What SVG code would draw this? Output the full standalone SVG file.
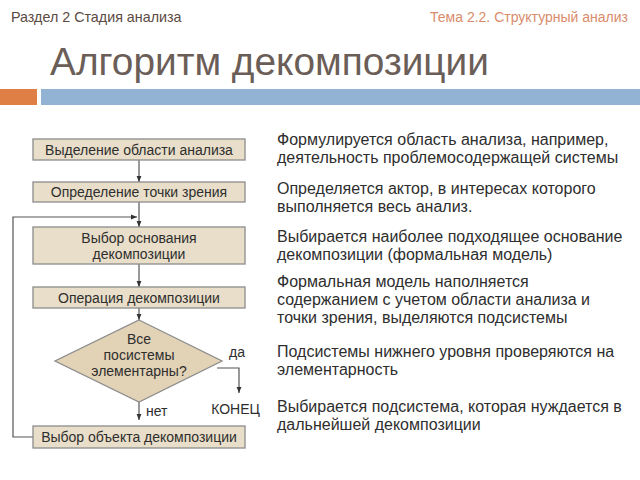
<svg xmlns="http://www.w3.org/2000/svg" width="640" height="480" viewBox="0 0 640 480">
<defs>
<style>
.box{fill:#e9dec9;stroke:#8c8c8c;stroke-width:1.3}
.dia{fill:#e2d2b6;stroke:#8c8c8c;stroke-width:1.3}
.bt{font-family:"Liberation Sans",Arial,sans-serif;font-size:14px;fill:#2e2e2e;text-anchor:middle}
.rt{font-family:"Liberation Sans",Arial,sans-serif;font-size:16px;fill:#2e2e2e}
.ln{fill:none;stroke:#555;stroke-width:1.2}
</style>
<marker id="ah" viewBox="0 0 10 10" refX="10" refY="5" markerWidth="6" markerHeight="6" orient="auto" markerUnits="userSpaceOnUse">
<path d="M0,1 L10,5 L0,9 z" fill="#333"/>
</marker>
</defs>
<rect width="640" height="480" fill="#fff"/>
<g id="header">
<text x="11" y="22" font-family="Liberation Sans,Arial,sans-serif" font-size="14.3" fill="#5a4a42">Раздел 2 Стадия анализа</text>
<text x="628" y="22" font-family="Liberation Sans,Arial,sans-serif" font-size="14" fill="#d98c6c" text-anchor="end">Тема 2.2. Структурный анализ</text>
<text x="50" y="75" font-family="Liberation Sans,Arial,sans-serif" font-size="38.8" fill="#6b5e58">Алгоритм декомпозиции</text>
<rect x="0" y="89" width="37" height="16" fill="#e07f45"/>
<rect x="41" y="89" width="599" height="16" fill="#93b3d4"/>
</g>
<g id="connectors">
<line class="ln" x1="139" y1="160" x2="139" y2="182" marker-end="url(#ah)"/>
<line class="ln" x1="139" y1="202" x2="139" y2="227" marker-end="url(#ah)"/>
<line class="ln" x1="139" y1="264" x2="139" y2="287" marker-end="url(#ah)"/>
<line class="ln" x1="139" y1="308" x2="139" y2="320" marker-end="url(#ah)"/>
<line class="ln" x1="139" y1="402" x2="139" y2="420" marker-end="url(#ah)"/>
<polyline class="ln" points="217,368 239,368 239,393" marker-end="url(#ah)"/>
<polyline class="ln" points="33,437 13,437 13,217 137,217" marker-end="url(#ah)"/>
</g>
<g id="n1"><rect class="box" x="33" y="139" width="212" height="21"/><text class="bt" x="139" y="155">Выделение области анализа</text></g>
<g id="n2"><rect class="box" x="33" y="182" width="212" height="20"/><text class="bt" x="139" y="197">Определение точки зрения</text></g>
<g id="n3"><rect class="box" x="33" y="227" width="212" height="37"/><text class="bt" x="139" y="243">Выбор основания</text><text class="bt" x="139" y="259">декомпозиции</text></g>
<g id="n4"><rect class="box" x="33" y="287" width="212" height="21"/><text class="bt" x="139" y="302.5">Операция декомпозиции</text></g>
<g id="n5"><polygon class="dia" points="139,320 222,361 139,402 55,361"/><text class="bt" x="139" y="344">Все</text><text class="bt" x="139" y="360">посистемы</text><text class="bt" x="139" y="376">элементарны?</text></g>
<g id="n6"><rect class="box" x="33" y="426" width="212" height="22"/><text class="bt" x="139" y="442">Выбор объекта декомпозиции</text></g>
<g id="labels">
<text class="bt" x="237" y="357">да</text>
<text class="bt" x="235.5" y="414" font-size="15">КОНЕЦ</text>
<text class="bt" x="146" y="416" style="text-anchor:start">нет</text>
</g>
<g id="notes">
<text class="rt" x="277" y="145">Формулируется область анализа, например,</text>
<text class="rt" x="277" y="162.5">деятельность проблемосодержащей системы</text>
<text class="rt" x="277" y="194">Определяется актор, в интересах которого</text>
<text class="rt" x="277" y="211.5">выполняется весь анализ.</text>
<text class="rt" x="277" y="242">Выбирается наиболее подходящее основание</text>
<text class="rt" x="277" y="260">декомпозиции (формальная модель)</text>
<text class="rt" x="277" y="287">Формальная модель наполняется</text>
<text class="rt" x="277" y="305">содержанием с учетом области анализа и</text>
<text class="rt" x="277" y="323">точки зрения, выделяются подсистемы</text>
<text class="rt" x="277" y="357">Подсистемы нижнего уровня проверяются на</text>
<text class="rt" x="277" y="375">элементарность</text>
<text class="rt" x="277" y="411.5">Выбирается подсистема, которая нуждается в</text>
<text class="rt" x="277" y="429.5">дальнейшей декомпозиции</text>
</g>
</svg>
